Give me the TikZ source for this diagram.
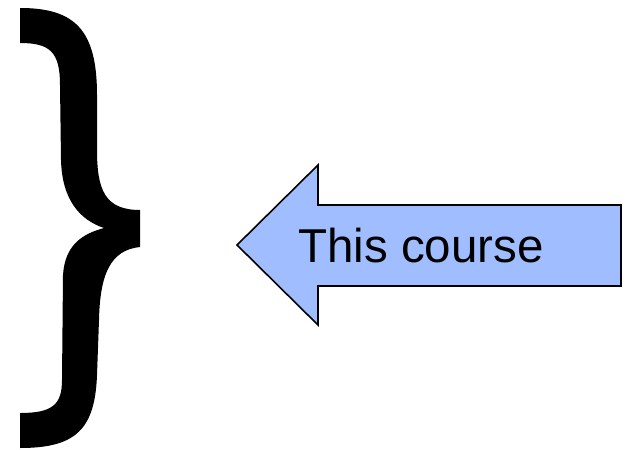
\documentclass[tikz,border=0pt]{standalone}
\usepackage{fontspec}
\setmainfont{Liberation Sans}
\definecolor{arrowblue}{RGB}{160,190,255}
\tikzset{
  bracefill/.style={fill=black},
  bigarrow/.style={draw=black, line width=1.6pt, fill=arrowblue, line join=miter},
  arrowtext/.style={font=\fontsize{47.5}{57}\selectfont, inner sep=0pt, anchor=base west}
}

\begin{document}
\begin{tikzpicture}[x=1pt, y=-1pt]
\useasboundingbox (0,0) rectangle (628,449);

% the big closing brace, filled outline
\fill[bracefill] (20,8) .. controls (75,8) and (97,30) .. (97,95)
  -- (97,150) .. controls (97,190) and (105,210) .. (140,210)
  -- (140,247) .. controls (110,250) and (100,275) .. (99,320)
  -- (97,375) .. controls (95,430) and (75,448) .. (20,448)
  -- (20,413) .. controls (52,413) and (62,405) .. (62,380)
  -- (63,275) .. controls (65,245) and (82,234) .. (104,228)
  .. controls (80,220) and (62,200) .. (61,160)
  -- (60,85) .. controls (60,52) and (50,43) .. (20,43) -- cycle;

% arrow pointing back at the brace
\draw[bigarrow] (237,245) -- (318,165) -- (318,205) -- (621,205)
  -- (621,286) -- (318,286) -- (318,325) -- cycle;
\node[arrowtext] (course) at (298,262) {This course};
\end{tikzpicture}
\end{document}
